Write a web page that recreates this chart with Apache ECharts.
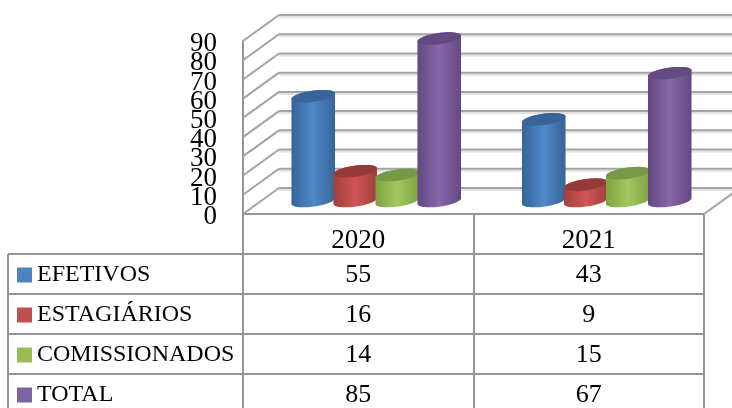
<!DOCTYPE html>
<html><head><meta charset="utf-8">
<style>html,body{margin:0;padding:0;background:#fff}#c{width:732px;height:408px}</style>
<script src="https://cdn.jsdelivr.net/npm/echarts@6/dist/echarts.min.js"></script>
</head><body><div id="c"></div>
<script>
const categories = ['2020', '2021'];
const seriesNames = ['EFETIVOS', 'ESTAGIÁRIOS', 'COMISSIONADOS', 'TOTAL'];
const efetivos = [55, 43];
const estagiarios = [16, 9];
const comissionados = [14, 15];
const total = [85, 67];
const yTicks = [0, 10, 20, 30, 40, 50, 60, 70, 80, 90];

const allValues = [efetivos, estagiarios, comissionados, total];
const palette = [
  {flat:'#4f81bd', edge:'#35649a', mid:'#5088c8', top:'#386596'},
  {flat:'#c0504d', edge:'#a03f3d', mid:'#cf5654', top:'#953a38'},
  {flat:'#9bbb59', edge:'#7fa244', mid:'#a4c860', top:'#779845'},
  {flat:'#8064a2', edge:'#624981', mid:'#8867aa', top:'#644a82'}
];
const FONT = 'Liberation Serif';
const GRAY = '#959595';
const DX = 36, DY = -26;        // wall depth
const A = 22, B = 5.6, R = -8 * Math.PI / 180;   // cylinder cross-section
const STEP = 42;                // bar pitch
const rowY = [275, 315, 355, 395];
const ruleY = [254, 294, 334, 374];

function ell(cx, cy, t) {
  const c = Math.cos(t), s = Math.sin(t);
  return [cx + A*c*Math.cos(R) - B*s*Math.sin(R), cy + A*c*Math.sin(R) + B*s*Math.cos(R)];
}
function cylinder(idx) {
  return function (params, api) {
    const base = api.coord([api.value(0), 0]);
    const top = api.coord([api.value(0), api.value(1)]);
    const off = (idx - 1.5) * STEP + DX / 2;
    const cx = base[0] + off, by = base[1] + DY / 2, ty = top[1] + DY / 2 + 1;
    const body = [], cap = [];
    const N = 36;
    for (let i = 0; i <= N; i++) body.push(ell(cx, by, Math.PI * i / N));
    for (let i = 0; i <= N; i++) body.push(ell(cx, ty, Math.PI + Math.PI * i / N));
    for (let i = 0; i < N * 2; i++) cap.push(ell(cx, ty, Math.PI * i / N));
    const p = palette[idx];
    return {type:'group', children:[
      {type:'polygon', shape:{points:body}, style:{fill:{type:'linear',x:0,y:0,x2:1,y2:0,colorStops:[
        {offset:0,color:p.edge},{offset:0.5,color:p.mid},{offset:1,color:p.edge}]}}},
      {type:'polygon', shape:{points:cap}, style:{fill:p.top}}
    ]};
  };
}
function wallLine(params, api) {
  const cs = params.coordSys;
  const y = api.coord([0, api.value(0)])[1];
  const l = cs.x, r = cs.x + cs.width;
  const seg = (x1,y1,x2,y2,c) => ({type:'line', shape:{x1,y1,x2,y2}, style:{stroke:c, lineWidth:2}});
  return {type:'group', children:[
    seg(l+DX, y+DY+2, r+DX, y+DY+2, '#e2e2e2'),
    seg(l+DX, y+DY, r+DX, y+DY, '#a3a3a3'),
    seg(l, y, l+DX, y+DY, '#a3a3a3')
  ]};
}
function floorEdge(params) {
  const cs = params.coordSys;
  const r = cs.x + cs.width, b = cs.y + cs.height;
  return {type:'line', shape:{x1:r, y1:b, x2:r+DX, y2:b+DY}, style:{stroke:'#a3a3a3', lineWidth:2}};
}

const chart = echarts.init(document.getElementById('c'), null, {renderer:'canvas'});
const seriesList = [
  {type:'custom', name:'walls', silent:true, data:yTicks.map(v=>[v]), renderItem:wallLine, encode:{y:0}},
  {type:'custom', name:'floor', silent:true, data:[[0]], renderItem:floorEdge, encode:{y:0}}
];
seriesNames.forEach((n,i)=>seriesList.push({
  type:'custom', name:n, silent:true, itemStyle:{color:palette[i].flat},
  data:allValues[i].map((v,c)=>[c,v]), encode:{x:0,y:1}, renderItem:cylinder(i)
}));
chart.setOption({
  animation:false,
  backgroundColor:'#fff',
  textStyle:{fontFamily:FONT},
  grid:{left:243, right:28, top:41, bottom:194, containLabel:false},
  legend:{show:true, data:seriesNames, orient:'vertical', left:17, top:263, itemWidth:15, itemHeight:15, itemGap:16,
    selectedMode:false, icon:'rect', padding:0, textStyle:{fontFamily:FONT, fontSize:24, color:'#000'}},
  tooltip:{show:false},
  xAxis:{type:'category', data:categories, boundaryGap:true,
    axisLine:{show:true, lineStyle:{color:GRAY, width:2}},
    axisTick:{show:true, length:200, lineStyle:{color:GRAY, width:2}},
    axisLabel:{fontFamily:FONT, fontSize:27, color:'#000', margin:13}, splitLine:{show:false}},
  yAxis:{type:'value', min:0, max:90, interval:10,
    axisLine:{show:true, lineStyle:{color:GRAY, width:2}}, axisTick:{show:false},
    axisLabel:{show:false}, splitLine:{show:false}},
  series:seriesList
});
// y labels (they overlap in the reference, so they are placed without the axis's overlap hiding) and data table
const g = [];
yTicks.forEach(v=>{
  const y = chart.convertToPixel({yAxisIndex:0}, v);
  g.push({type:'text', x:217, y:y+3, style:{text:String(v), fontFamily:FONT, fontSize:27, fill:'#000', align:'right', verticalAlign:'middle'}});
});
ruleY.forEach(y=>g.push({type:'line', shape:{x1:8,y1:y,x2:704,y2:y}, style:{stroke:GRAY, lineWidth:2}}));
g.push({type:'line', shape:{x1:8,y1:ruleY[0],x2:8,y2:408}, style:{stroke:GRAY, lineWidth:2}});
allValues.forEach((vals,r)=>vals.forEach((v,c)=>{
  const x = chart.convertToPixel({xAxisIndex:0}, categories[c]);
  g.push({type:'text', x:x, y:rowY[r], style:{text:String(v), fontFamily:FONT, fontSize:26, fill:'#000', align:'center', verticalAlign:'middle'}});
}));
chart.setOption({graphic:g});
</script></body></html>
